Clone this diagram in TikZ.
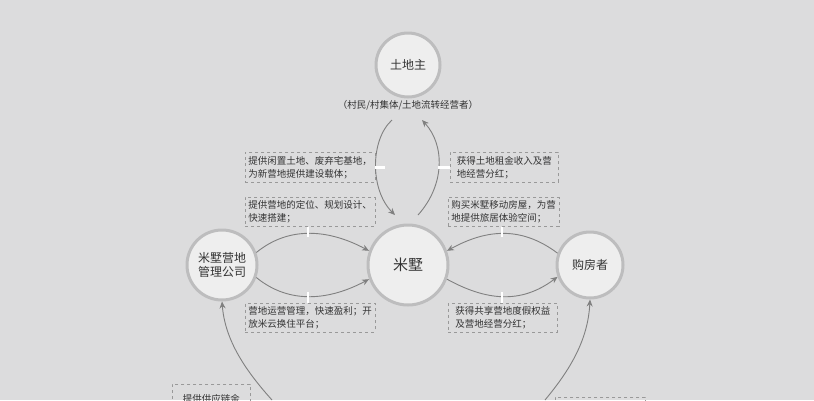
\documentclass[tikz,border=0pt]{standalone}
\usepackage{fontspec}
\setmainfont{Noto Sans CJK SC}
\usetikzlibrary{arrows.meta}
\definecolor{bg}{HTML}{DCDCDD}
\definecolor{ring}{HTML}{BDBDBE}
\definecolor{cfill}{HTML}{EEEEEE}
\definecolor{ln}{HTML}{808080}
\definecolor{tx}{HTML}{333333}
\begin{document}
\begin{tikzpicture}[x=1pt,y=-1pt,
  actor/.style={circle,fill=cfill,draw=ring,line width=3pt,text=tx,align=center,font=\fontsize{12}{14}\selectfont},
  note/.style={draw=ln!80,dashed,line width=0.5pt,text=tx,align=left,anchor=north west,font=\fontsize{9.5}{13}\selectfont,inner sep=3pt},
  flow/.style={ln,line width=0.9pt,-{Stealth[length=7pt,width=6pt]}},
  tick/.style={white,line width=2.5pt}]
\fill[bg] (0,0) rectangle (814,400);
\useasboundingbox (0,0) rectangle (814,400);
\node[actor,minimum size=64pt] (land) at (408,65) {土地主};
\node[text=tx,font=\fontsize{9.5}{11}\selectfont] (landsub) at (408,105) {（村民/村集体/土地流转经营者）};
\node[actor,minimum size=80pt,font=\fontsize{15}{17}\selectfont] (mi) at (408,265) {米墅};
\node[actor,minimum size=70pt] (co) at (222,265) {米墅营地\\管理公司};
\node[actor,minimum size=66pt] (buy) at (590,265) {购房者};

\node[note,minimum width=124pt,minimum height=30pt] (b1) at (245,152) {提供闲置土地、废弃宅基地，\\为新营地提供建设载体；};
\node[note,minimum width=108pt,minimum height=30pt] (b2) at (450,152) {获得土地租金收入及营\\地经营分红；};
\node[note,minimum width=125pt,minimum height=29pt] (b3) at (245,197) {提供营地的定位、规划设计、\\快速搭建；};
\node[note,minimum width=109pt,minimum height=29pt] (b4) at (448,197) {购买米墅移动房屋，为营\\地提供旅居体验空间；};
\node[note,minimum width=125pt,minimum height=27pt] (b5) at (245,303) {营地运营管理，快速盈利；开\\放米云换住平台；};
\node[note,minimum width=109pt,minimum height=27pt] (b6) at (448,303) {获得共享营地度假权益\\及营地经营分红；};
\node[note,minimum width=78pt,minimum height=30pt] (b7) at (172,384) {提供供应链金};
\node[note,minimum width=90pt,minimum height=30pt] (b8) at (555,397) {};

\coordinate (p1) at (392,120); \coordinate (p2) at (395,215);
\coordinate (p3) at (418,215); \coordinate (p4) at (422,120);
\draw[flow] (p1) .. controls (370,140) and (370,190) .. (p2);
\draw[flow] (p3) .. controls (445,185) and (445,145) .. (p4);
\draw[flow] (co.20) .. controls (290,225) and (330,230) .. (mi.160);
\draw[flow] (co.-20) .. controls (290,305) and (330,300) .. (mi.-160);
\draw[flow] (buy.160) .. controls (520,225) and (485,230) .. (mi.20);
\draw[flow] (mi.-20) .. controls (485,300) and (520,305) .. (buy.-160);
\coordinate (q1) at (272,400); \coordinate (q2) at (545,400);
\draw[flow] (q1) .. controls (245,370) and (225,340) .. (co.south);
\draw[flow] (q2) .. controls (570,370) and (588,340) .. (buy.south);

\draw[tick] (b1.east) -- ++(10,0);
\draw[tick] (b2.west) -- ++(-12,0);
\draw[tick] (b3.south -| 308,0) -- (308,237);
\draw[tick] (b4.south -| 502,0) -- (502,237);
\draw[tick] (b5.north -| 308,0) -- (308,292);
\draw[tick] (b6.north -| 502,0) -- (502,292);
\end{tikzpicture}
\end{document}
